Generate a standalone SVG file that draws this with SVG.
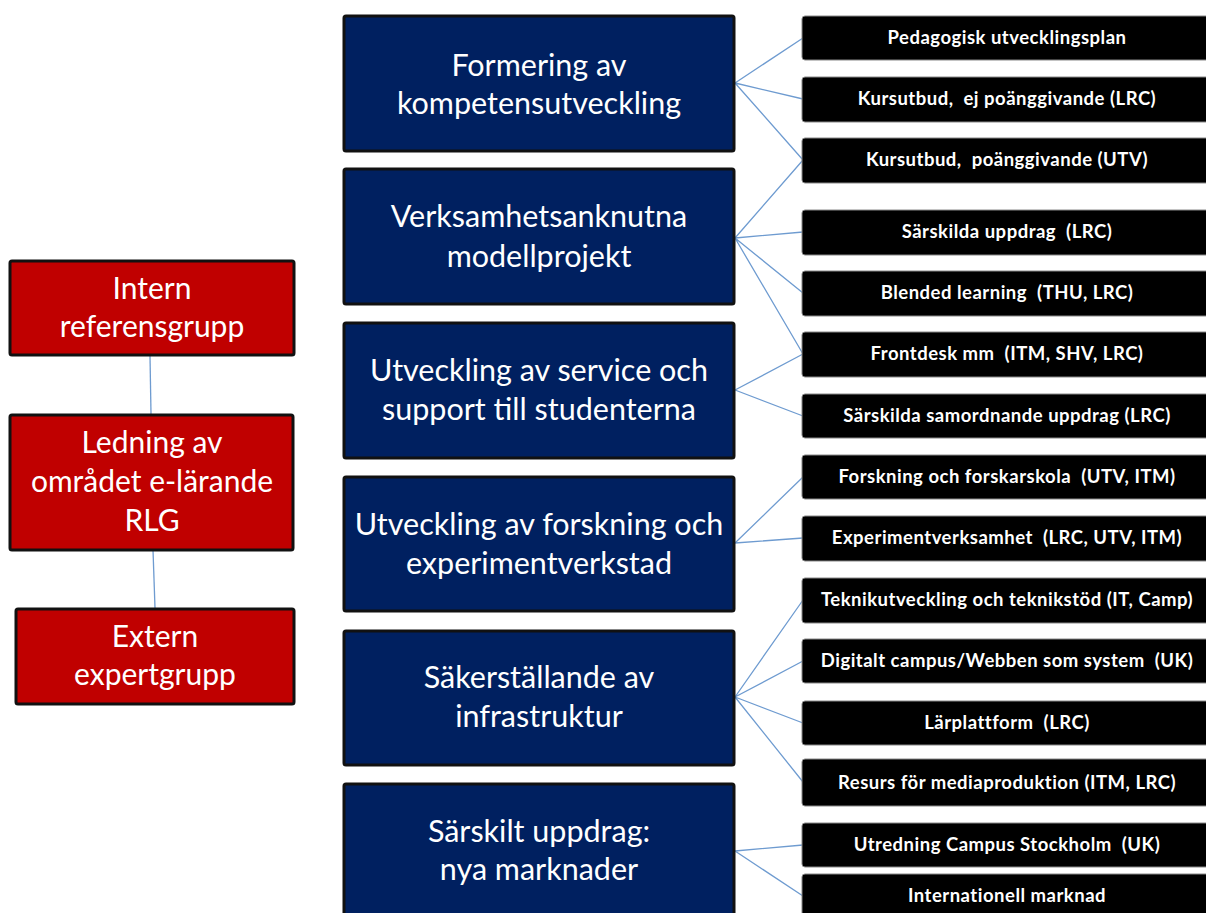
<svg xmlns="http://www.w3.org/2000/svg" width="1206" height="913" viewBox="0 0 1206 913">
<style>
.red{fill:#C00000;stroke:#111;stroke-width:3}
.blue{fill:#002060;stroke:#111;stroke-width:3}
.blk{fill:#000;stroke:#888;stroke-width:1}
.t1{font-family:Lato,"Open Sans",sans-serif;font-size:30px;fill:#fff;text-anchor:middle}
.t3{font-family:Lato,"Open Sans",sans-serif;font-size:30.5px;fill:#fff;text-anchor:middle}
.t2{font-family:Lato,"Open Sans",sans-serif;font-size:18.5px;letter-spacing:0.5px;font-weight:bold;fill:#fff;text-anchor:middle;white-space:pre}
.c{stroke:#6E9BD0;stroke-width:1.3;fill:none}
</style>
<rect width="1206" height="913" fill="#fff"/>
<g id="connectors">
<line class="c" x1="150" y1="356" x2="151" y2="414"/>
<line class="c" x1="153" y1="550" x2="155" y2="608"/>
<path class="c" d="M735 83L803 38M735 83L803 99M735 83L803 160"/>
<path class="c" d="M735 238L803 160M735 238L803 232M735 238L803 293M735 238L803 354"/>
<path class="c" d="M735 390L803 354M735 390L803 416"/>
<path class="c" d="M735 543L803 477M735 543L803 538"/>
<path class="c" d="M735 697L803 600M735 697L803 661M735 697L803 723M735 697L803 782"/>
<path class="c" d="M735 851L803 845M735 851L803 896"/>
</g>
<g id="intern"><rect class="red" x="10" y="261" width="284" height="94" rx="2"/><text class="t1" x="152" y="299">Intern</text><text class="t1" x="152" y="337">referensgrupp</text></g>
<g id="ledning"><rect class="red" x="10" y="415" width="283" height="135" rx="2"/><text class="t1" x="152" y="453">Ledning av</text><text class="t1" x="152" y="492">området e-lärande</text><text class="t1" x="152" y="531">RLG</text></g>
<g id="extern"><rect class="red" x="16" y="609" width="278" height="95" rx="2"/><text class="t1" x="155" y="647">Extern</text><text class="t1" x="155" y="685">expertgrupp</text></g>
<g id="b1"><rect class="blue" x="344" y="16" width="390" height="135" rx="2"/><text class="t3" x="539" y="76">Formering av</text><text class="t3" x="539" y="114">kompetensutveckling</text></g>
<g id="b2"><rect class="blue" x="344" y="169" width="390" height="135" rx="2"/><text class="t3" x="539" y="227">Verksamhetsanknutna</text><text class="t3" x="539" y="267">modellprojekt</text></g>
<g id="b3"><rect class="blue" x="344" y="323" width="390" height="135" rx="2"/><text class="t3" x="539" y="381">Utveckling av service och</text><text class="t3" x="539" y="420">support till studenterna</text></g>
<g id="b4"><rect class="blue" x="344" y="477" width="390" height="134" rx="2"/><text class="t3" x="539" y="535">Utveckling av forskning och</text><text class="t3" x="539" y="574">experimentverkstad</text></g>
<g id="b5"><rect class="blue" x="344" y="631" width="390" height="134" rx="2"/><text class="t3" x="539" y="688">Säkerställande av</text><text class="t3" x="539" y="727">infrastruktur</text></g>
<g id="b6"><rect class="blue" x="344" y="784" width="390" height="140" rx="2"/><text class="t3" x="539" y="842">Särskilt uppdrag:</text><text class="t3" x="539" y="880">nya marknader</text></g>
<g id="k1"><rect class="blk" x="802" y="16" width="410" height="44" rx="3"/><text class="t2" x="1007" y="44">Pedagogisk utvecklingsplan</text></g>
<g id="k2"><rect class="blk" x="802" y="77" width="410" height="45" rx="3"/><text class="t2" x="1007" y="105">Kursutbud,  ej poänggivande (LRC)</text></g>
<g id="k3"><rect class="blk" x="802" y="138" width="410" height="45" rx="3"/><text class="t2" x="1007" y="166">Kursutbud,  poänggivande (UTV)</text></g>
<g id="k4"><rect class="blk" x="802" y="210" width="410" height="45" rx="3"/><text class="t2" x="1007" y="238">Särskilda uppdrag  (LRC)</text></g>
<g id="k5"><rect class="blk" x="802" y="271" width="410" height="45" rx="3"/><text class="t2" x="1007" y="299">Blended learning  (THU, LRC)</text></g>
<g id="k6"><rect class="blk" x="802" y="332" width="410" height="45" rx="3"/><text class="t2" x="1007" y="360">Frontdesk mm  (ITM, SHV, LRC)</text></g>
<g id="k7"><rect class="blk" x="802" y="394" width="410" height="44" rx="3"/><text class="t2" x="1007" y="422">Särskilda samordnande uppdrag (LRC)</text></g>
<g id="k8"><rect class="blk" x="802" y="455" width="410" height="44" rx="3"/><text class="t2" x="1007" y="483">Forskning och forskarskola  (UTV, ITM)</text></g>
<g id="k9"><rect class="blk" x="802" y="516" width="410" height="45" rx="3"/><text class="t2" x="1007" y="544">Experimentverksamhet  (LRC, UTV, ITM)</text></g>
<g id="k10"><rect class="blk" x="802" y="578" width="410" height="45" rx="3"/><text class="t2" x="1007" y="606">Teknikutveckling och teknikstöd (IT, Camp)</text></g>
<g id="k11"><rect class="blk" x="802" y="639" width="410" height="44" rx="3"/><text class="t2" x="1007" y="667">Digitalt campus/Webben som system  (UK)</text></g>
<g id="k12"><rect class="blk" x="802" y="701" width="410" height="44" rx="3"/><text class="t2" x="1007" y="729">Lärplattform  (LRC)</text></g>
<g id="k13"><rect class="blk" x="802" y="759" width="410" height="47" rx="3"/><text class="t2" x="1007" y="789">Resurs för mediaproduktion (ITM, LRC)</text></g>
<g id="k14"><rect class="blk" x="802" y="823" width="410" height="44" rx="3"/><text class="t2" x="1007" y="851">Utredning Campus Stockholm  (UK)</text></g>
<g id="k15"><rect class="blk" x="802" y="874" width="410" height="45" rx="3"/><text class="t2" x="1007" y="902">Internationell marknad</text></g>
</svg>
